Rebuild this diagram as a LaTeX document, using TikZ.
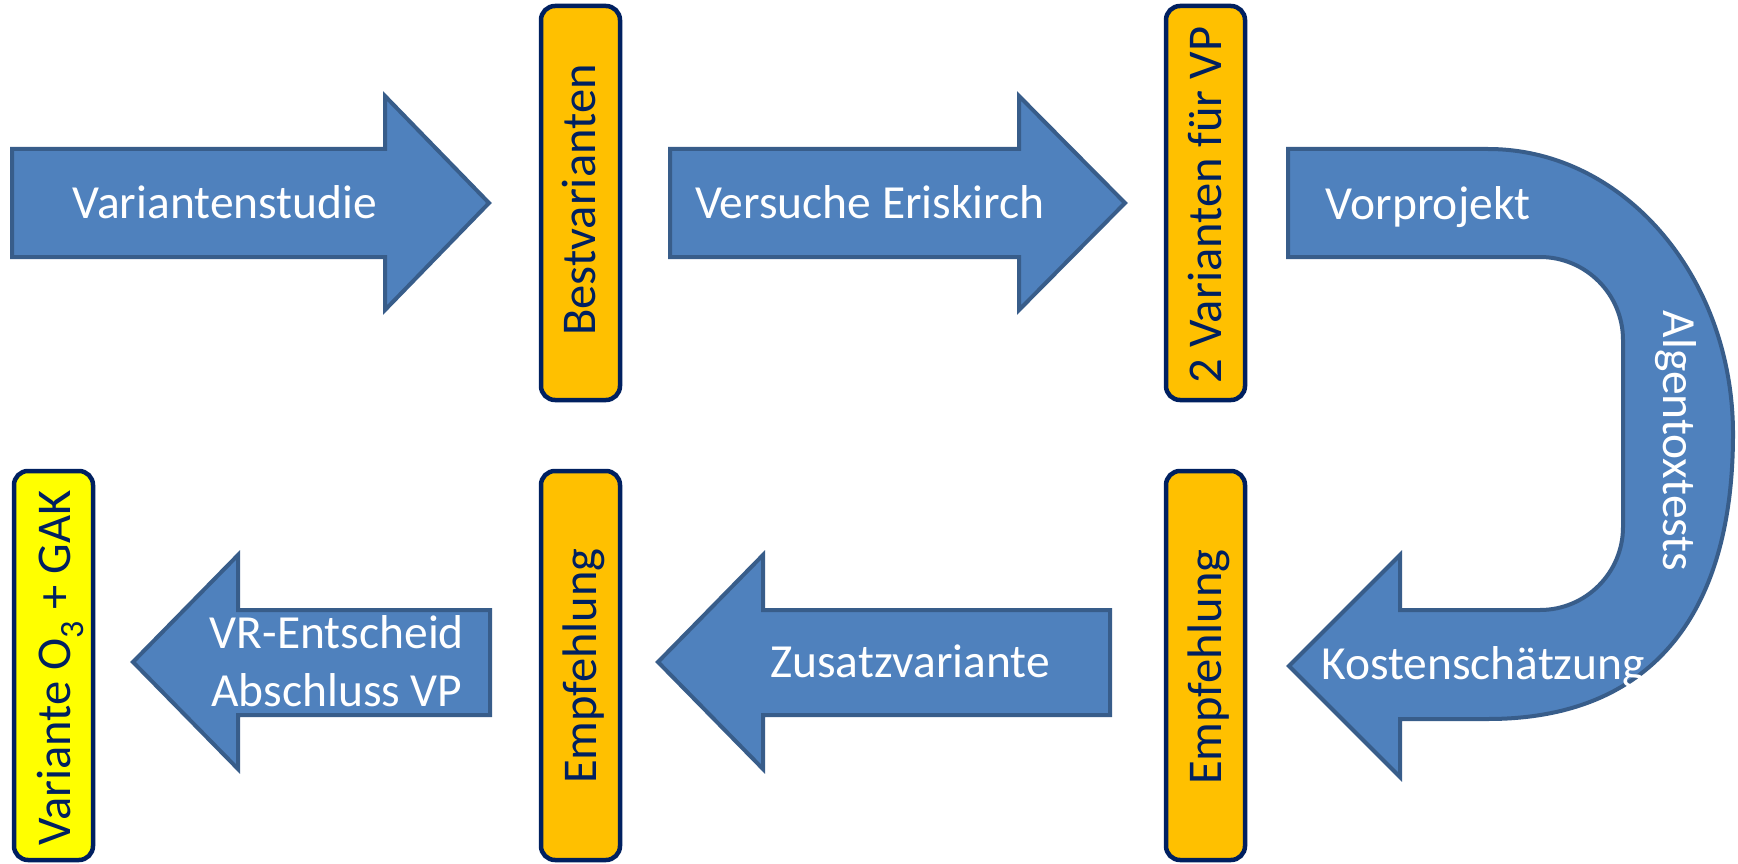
\documentclass[tikz,border=0pt]{standalone}
\usepackage{fontspec}
\setmainfont{Carlito}
\definecolor{arrowfill}{HTML}{4F81BD}
\definecolor{arrowline}{HTML}{385D8A}
\definecolor{boxfill}{HTML}{FFC000}
\definecolor{navy}{HTML}{002060}
\definecolor{brightyellow}{HTML}{FFFF00}
\newcommand\diagfont{\fontsize{47.5}{58}\selectfont}
\newcommand\boxfont{\fontsize{48.5}{58}\selectfont}
\tikzset{
  blockarrow/.style={fill=arrowfill, draw=arrowline, line width=4pt, line join=miter},
  stagebox/.style={fill=boxfill, draw=navy, line width=4.5pt, rounded corners=14pt, inner sep=0pt, minimum width=79pt},
  arrowtext/.style={text=white, font=\diagfont, inner sep=0pt, anchor=base},
  boxtext/.style={text=navy, font=\boxfont, inner sep=0pt, anchor=base},
}
\begin{document}
\begin{tikzpicture}[x=1pt,y=-1pt]
\useasboundingbox (0,0) rectangle (1738,864);
\fill[white] (0,0) rectangle (1738,864);

% upper row arrows
\draw[blockarrow] (12,149) -- (385,149) -- (385,96) -- (489,203) -- (385,310) -- (385,257) -- (12,257) -- cycle;
\node[arrowtext] (variantenstudie) at (225,218) {Variantenstudie};

\draw[blockarrow] (670,149) -- (1019,149) -- (1019,96) -- (1125,203) -- (1019,310) -- (1019,257) -- (670,257) -- cycle;
\node[arrowtext] (versuche) at (870,218) {Versuche Eriskirch};

% U-turn arrow
\draw[blockarrow] (1288,149) -- (1488,149)
  .. controls (1623.3,149) and (1733,276.6) .. (1733,434)
  .. controls (1733,619.3) and (1647.3,719) .. (1488,719)
  -- (1400,719) -- (1400,777) -- (1289,666) -- (1400,555) -- (1400,610) -- (1540,610)
  .. controls (1585.8,610) and (1623,572.8) .. (1623,527)
  -- (1623,340)
  .. controls (1623,294.2) and (1585.8,257) .. (1540,257)
  -- (1288,257) -- cycle;
\node[arrowtext] (vorprojekt) at (1428,219) {Vorprojekt};
\node[arrowtext, rotate=-90] (algen) at (1663,441) {Algentoxtests};
\node[arrowtext] (kosten) at (1483,679) {Kostenschätzung};

% lower row arrows
\draw[blockarrow] (1110,610) -- (763,610) -- (763,555) -- (658,662) -- (763,769) -- (763,715) -- (1110,715) -- cycle;
\node[arrowtext] (zusatz) at (910,677) {Zusatzvariante};

\draw[blockarrow] (490,610) -- (238,610) -- (238,555) -- (133,662) -- (238,769) -- (238,715) -- (490,715) -- cycle;
\node[arrowtext] (vrA) at (337,648) {VR-Entscheid};
\node[arrowtext] (vrB) at (337,706) {Abschluss VP};

% stage boxes
\node[stagebox, minimum height=394pt] (best) at (580.5,203) {};
\node[boxtext, rotate=90] (bestT) at (595,200) {Bestvarianten};

\node[stagebox, minimum height=394pt] (zwei) at (1205.5,203) {};
\node[boxtext, rotate=90] (zweiT) at (1221,205) {2 Varianten für VP};

\node[stagebox, minimum height=389pt] (empfR) at (1205.5,665.5) {};
\node[boxtext, rotate=90] (empfRT) at (1221,667) {Empfehlung};

\node[stagebox, minimum height=389pt] (empfL) at (580.5,665.5) {};
\node[boxtext, rotate=90] (empfLT) at (596,666) {Empfehlung};

\node[stagebox, fill=brightyellow, minimum height=389pt] (final) at (53.5,665.5) {};
\node[boxtext, rotate=90] (finalT) at (70,668) {Variante O\textsubscript{3} + GAK};
\end{tikzpicture}
\end{document}
